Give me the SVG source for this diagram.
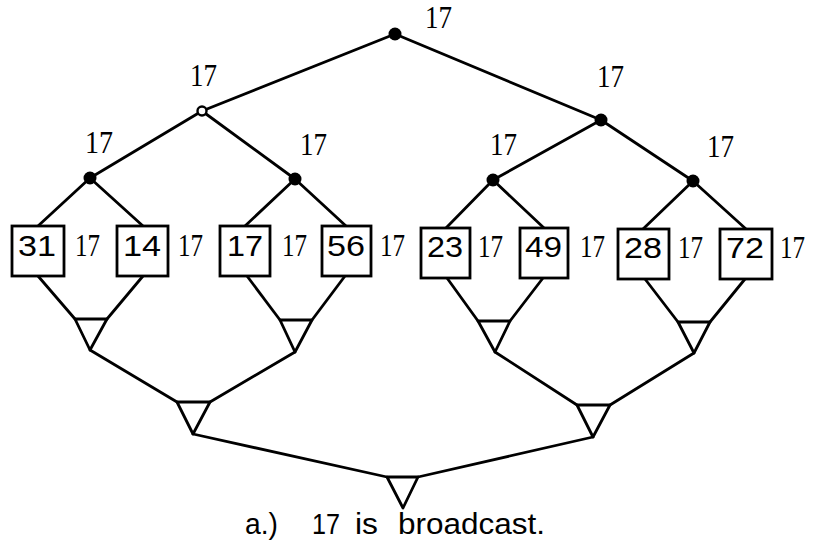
<svg xmlns="http://www.w3.org/2000/svg" width="817" height="548" viewBox="0 0 817 548">
<defs>
<style>
.ln{stroke:#000;stroke-width:2.8;fill:none;stroke-linecap:round;stroke-linejoin:round}
.bx{stroke:#000;stroke-width:2.8;fill:#fff}
.dot{fill:#000}
.hol{fill:#fff;stroke:#000;stroke-width:2.4}
.tri{stroke:#000;stroke-width:2.8;fill:#fff;stroke-linejoin:round}
.num{font-family:"Liberation Sans",Arial,sans-serif;font-size:29px;fill:#000}
.lab{font-family:"Liberation Serif","Times New Roman",serif;font-size:31px;fill:#000}
.cap{font-family:"Liberation Sans",Arial,sans-serif;font-size:29px;fill:#000}
</style>
</defs>
<rect width="817" height="548" fill="#fff"/>
<g id="connectors" class="ln">
<line x1="395" y1="34" x2="202" y2="111"/>
<line x1="395" y1="34" x2="601" y2="120"/>
<line x1="202" y1="111" x2="90" y2="178"/>
<line x1="202" y1="111" x2="295" y2="179"/>
<line x1="601" y1="120" x2="493" y2="180"/>
<line x1="601" y1="120" x2="693" y2="181"/>
<line x1="90" y1="178" x2="38" y2="226"/>
<line x1="90" y1="178" x2="143" y2="226"/>
<line x1="295" y1="179" x2="245" y2="226"/>
<line x1="295" y1="179" x2="346" y2="226"/>
<line x1="493" y1="180" x2="446" y2="228"/>
<line x1="493" y1="180" x2="544" y2="228"/>
<line x1="693" y1="181" x2="643" y2="229"/>
<line x1="693" y1="181" x2="746" y2="229"/>
<line x1="38" y1="276" x2="75" y2="319"/>
<line x1="143" y1="276" x2="107" y2="319"/>
<line x1="247" y1="276" x2="280" y2="320"/>
<line x1="345" y1="276" x2="312" y2="320"/>
<line x1="447" y1="278" x2="478" y2="321"/>
<line x1="543" y1="278" x2="510" y2="321"/>
<line x1="645" y1="279" x2="678" y2="322"/>
<line x1="745" y1="279" x2="710" y2="322"/>
<line x1="90" y1="350" x2="177" y2="402"/>
<line x1="295" y1="352" x2="210" y2="402"/>
<line x1="495" y1="352" x2="577" y2="405"/>
<line x1="694" y1="353" x2="610" y2="405"/>
<line x1="193" y1="434" x2="387" y2="477"/>
<line x1="593" y1="437" x2="418" y2="477"/>
</g>
<g id="root"><circle class="dot" cx="395" cy="34" r="6.5"/><text class="lab" x="425" y="28" textLength="27" lengthAdjust="spacingAndGlyphs">17</text></g>
<g id="nodeL"><circle class="hol" cx="202" cy="111" r="4.5"/><text class="lab" x="190" y="86" textLength="27" lengthAdjust="spacingAndGlyphs">17</text></g>
<g id="nodeR"><circle class="dot" cx="601" cy="120" r="6.5"/><text class="lab" x="597" y="87" textLength="27" lengthAdjust="spacingAndGlyphs">17</text></g>
<g id="nodeLL"><circle class="dot" cx="90" cy="178" r="6.5"/><text class="lab" x="85" y="153" textLength="28" lengthAdjust="spacingAndGlyphs">17</text></g>
<g id="nodeLR"><circle class="dot" cx="295" cy="179" r="6.5"/><text class="lab" x="300" y="155" textLength="27" lengthAdjust="spacingAndGlyphs">17</text></g>
<g id="nodeRL"><circle class="dot" cx="493" cy="180" r="6.5"/><text class="lab" x="490" y="155" textLength="27" lengthAdjust="spacingAndGlyphs">17</text></g>
<g id="nodeRR"><circle class="dot" cx="693" cy="181" r="6.5"/><text class="lab" x="707" y="157" textLength="27" lengthAdjust="spacingAndGlyphs">17</text></g>
<g id="box31"><rect class="bx" x="12" y="226" width="52" height="50"/><text class="num" x="18" y="256" textLength="38" lengthAdjust="spacingAndGlyphs">31</text><text class="lab" x="75" y="256" textLength="25" lengthAdjust="spacingAndGlyphs">17</text></g>
<g id="box14"><rect class="bx" x="117" y="226" width="51" height="50"/><text class="num" x="123" y="256" textLength="38" lengthAdjust="spacingAndGlyphs">14</text><text class="lab" x="178" y="256" textLength="25" lengthAdjust="spacingAndGlyphs">17</text></g>
<g id="box17"><rect class="bx" x="220" y="226" width="50" height="50"/><text class="num" x="227" y="256" textLength="36" lengthAdjust="spacingAndGlyphs">17</text><text class="lab" x="282" y="256" textLength="25" lengthAdjust="spacingAndGlyphs">17</text></g>
<g id="box56"><rect class="bx" x="322" y="226" width="49" height="50"/><text class="num" x="327" y="256" textLength="38" lengthAdjust="spacingAndGlyphs">56</text><text class="lab" x="380" y="256" textLength="25" lengthAdjust="spacingAndGlyphs">17</text></g>
<g id="box23"><rect class="bx" x="421" y="228" width="49" height="50"/><text class="num" x="427" y="257" textLength="36" lengthAdjust="spacingAndGlyphs">23</text><text class="lab" x="478" y="257" textLength="25" lengthAdjust="spacingAndGlyphs">17</text></g>
<g id="box49"><rect class="bx" x="520" y="228" width="48" height="50"/><text class="num" x="525" y="257" textLength="37" lengthAdjust="spacingAndGlyphs">49</text><text class="lab" x="580" y="257" textLength="25" lengthAdjust="spacingAndGlyphs">17</text></g>
<g id="box28"><rect class="bx" x="618" y="229" width="51" height="50"/><text class="num" x="624" y="258" textLength="38" lengthAdjust="spacingAndGlyphs">28</text><text class="lab" x="678" y="258" textLength="25" lengthAdjust="spacingAndGlyphs">17</text></g>
<g id="box72"><rect class="bx" x="720" y="229" width="52" height="50"/><text class="num" x="726" y="258" textLength="38" lengthAdjust="spacingAndGlyphs">72</text><text class="lab" x="780" y="258" textLength="25" lengthAdjust="spacingAndGlyphs">17</text></g>
<g id="tri1"><polygon class="tri" points="75,319 107,319 90,350"/></g>
<g id="tri2"><polygon class="tri" points="280,320 312,320 295,352"/></g>
<g id="tri3"><polygon class="tri" points="478,321 510,321 495,352"/></g>
<g id="tri4"><polygon class="tri" points="678,322 710,322 694,353"/></g>
<g id="triM1"><polygon class="tri" points="177,402 210,402 193,434"/></g>
<g id="triM2"><polygon class="tri" points="577,405 610,405 593,437"/></g>
<g id="triB"><polygon class="tri" points="387,477 418,477 403,508"/></g>
<g id="caption"><text class="cap" y="534"><tspan x="245" textLength="33" lengthAdjust="spacingAndGlyphs">a.)</tspan><tspan x="312" textLength="28" lengthAdjust="spacingAndGlyphs">17</tspan><tspan x="355" textLength="23" lengthAdjust="spacingAndGlyphs">is</tspan><tspan x="398" textLength="147" lengthAdjust="spacingAndGlyphs">broadcast.</tspan></text></g>
</svg>
